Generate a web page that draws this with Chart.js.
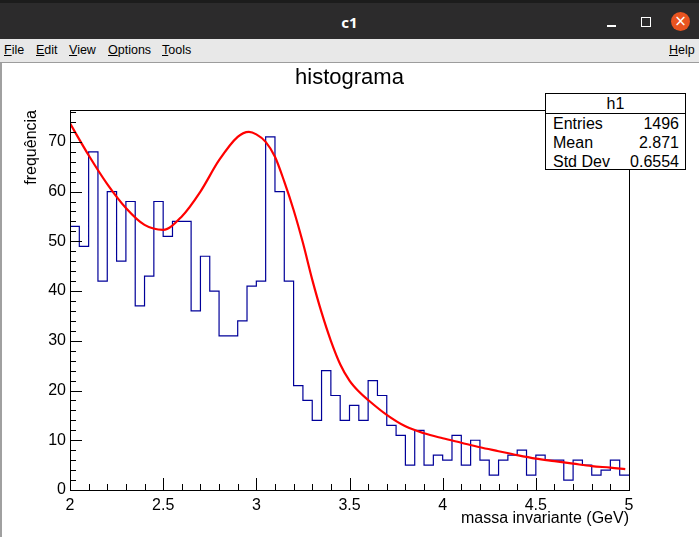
<!DOCTYPE html>
<html>
<head>
<meta charset="utf-8">
<script src="https://cdn.jsdelivr.net/npm/chart.js@4.4.1/dist/chart.umd.min.js"></script>
<style>
  body { margin: 0; width: 699px; height: 537px; overflow: hidden; background: #fff; position: relative; font-family: "Liberation Sans", Arial, sans-serif; }
  #strip { position: absolute; left: 0; top: 0; width: 699px; height: 4px; background: #1c1c1c; }
  #titlebar { position: absolute; left: 0; top: 3px; width: 699px; height: 36px; background: #2c2b2c; color: #fff; }
  #titlebar .name { position: absolute; left: 0; width: 699px; top: 9px; text-align: center; font: bold 15px "Noto Sans", sans-serif; }
  #titlebar .min { position: absolute; left: 607px; top: 22px; width: 9px; height: 1.5px; background: #fff; }
  #titlebar .max { position: absolute; left: 641px; top: 14px; width: 8px; height: 8px; border: 1.5px solid #fff; }
  #titlebar .close { position: absolute; left: 671px; top: 9px; width: 19px; height: 19px; border-radius: 50%; background: #e95420; color: #fff; font: 15px "DejaVu Sans", sans-serif; text-align: center; line-height: 19px; }
  #menubar { position: absolute; left: 0; top: 39px; width: 699px; height: 23px; background: #e8e8e8; border-bottom: 1px solid #9c9c9c; font: 12.5px "Liberation Sans", Arial, sans-serif; color: #000; }
  #menubar span { position: absolute; top: 4px; }
  #menubar u { text-decoration: underline; }
  #pad { position: absolute; left: 0; top: 63px; width: 699px; height: 474px; border-left: 2px solid #a0a0a0; box-sizing: border-box; }
  #wrap { position: absolute; left: 0; top: 63px; width: 699px; height: 474px; }
  #htitle { position: absolute; left: 0; width: 699px; top: 64px; text-align: center; font-size: 22px; color: #000; }
  #stats { position: absolute; left: 545px; top: 93px; width: 141px; height: 77px; box-sizing: border-box; border: 1px solid #000; background: #fff; font-size: 16px; color: #000; }
  #stats .head { height: 19px; border-bottom: 1px solid #000; text-align: center; line-height: 20px; }
  #stats .row { height: 19px; line-height: 19px; padding: 0 6px 0 7px; display: flex; justify-content: space-between; }
</style>
</head>
<body>
<div id="strip"></div>
<div id="titlebar"><div class="name">c1</div><div class="min"></div><div class="max"></div><div class="close">×</div></div>
<div id="menubar">
  <span style="left:4px"><u>F</u>ile</span>
  <span style="left:36px"><u>E</u>dit</span>
  <span style="left:69px"><u>V</u>iew</span>
  <span style="left:108px"><u>O</u>ptions</span>
  <span style="left:162px"><u>T</u>ools</span>
  <span style="left:669px"><u>H</u>elp</span>
</div>
<div id="pad"></div>
<div id="wrap"><canvas id="c1"></canvas></div>
<div id="htitle">histograma</div>
<div id="stats">
  <div class="head">h1</div>
  <div class="row"><span>Entries</span><span id="sEntries"></span></div>
  <div class="row"><span>Mean</span><span id="sMean"></span></div>
  <div class="row"><span>Std Dev</span><span id="sStd"></span></div>
</div>
<script>
// histograma: 60 bins de 0.05 GeV entre 2 e 5
const binStart = 2;
const binWidth = 0.05;
const counts = [
  53, 49, 68, 42, 60, 46, 58, 37, 43, 58,
  51, 54, 54, 36, 47, 40, 31, 31, 34, 41,
  42, 71, 60, 42, 21, 18, 14, 24, 19, 14,
  17, 14, 22, 19, 13, 11, 5, 12, 5, 7,
  6, 11, 5, 10, 6, 3, 6, 7, 8, 3,
  7, 6, 6, 2, 6, 5, 3, 4, 6, 3
];

// curva do ajuste
const fitX = [2.0, 2.1, 2.2, 2.3, 2.4, 2.5, 2.6, 2.7, 2.8, 2.9, 2.96, 3.0, 3.05, 3.1, 3.15, 3.2, 3.25, 3.3, 3.35, 3.4, 3.45, 3.5, 3.55, 3.6, 3.7, 3.8, 3.9, 4.0, 4.1, 4.2, 4.3, 4.4, 4.5, 4.6, 4.7, 4.8, 4.9, 4.98];
const fitY = [73.7, 67.3, 61.5, 56.7, 53.3, 52.3, 55.0, 60.0, 66.3, 71.0, 72.0, 71.5, 70.0, 67.0, 62.0, 56.3, 49.7, 42.3, 35.7, 30.0, 25.3, 22.0, 19.8, 18.1, 15.1, 12.8, 11.4, 10.4, 9.5, 8.6, 7.8, 7.0, 6.3, 5.8, 5.3, 4.8, 4.5, 4.2];

// caixa de estatisticas
const statEntries = "1496";
const statMean = "2.871";
const statStd = "0.6554";

// ticks dos eixos
const xTicks = [2, 2.5, 3, 3.5, 4, 4.5, 5];
const yTicks = [0, 10, 20, 30, 40, 50, 60, 70];
const xMin = 2, xMax = 5, yMin = 0, yMax = 76.4;

document.getElementById("sEntries").textContent = statEntries;
document.getElementById("sMean").textContent = statMean;
document.getElementById("sStd").textContent = statStd;

// contorno do histograma: cada bin vira dois pontos (borda esquerda e direita)
const histPoints = [];
counts.forEach((c, i) => {
  const lo = binStart + i * binWidth;
  histPoints.push({ x: lo, y: c });
  histPoints.push({ x: lo + binWidth, y: c });
});
const fitPoints = fitX.map((x, i) => ({ x: x, y: fitY[i] }));

// ticks para dentro + moldura, estilo ROOT
const rootFrame = {
  id: "rootFrame",
  afterDatasetsDraw(chart) {
    const { ctx, chartArea: a, scales } = chart;
    const sx = scales.x, sy = scales.y;
    ctx.save();
    ctx.strokeStyle = "#000";
    ctx.lineWidth = 1;
    ctx.beginPath();
    for (let v = 0; v <= yMax; v += 2) {
      const py = Math.round(sy.getPixelForValue(v)) + 0.5;
      const len = (v % 10 === 0) ? 12 : 6;
      ctx.moveTo(a.left, py);
      ctx.lineTo(a.left + len, py);
    }
    for (let k = 0; k <= 30; k++) {
      const v = xMin + k * 0.1;
      const px = Math.round(sx.getPixelForValue(v)) + 0.5;
      const len = (k % 5 === 0) ? 12 : 6;
      ctx.moveTo(px, a.bottom);
      ctx.lineTo(px, a.bottom - len);
    }
    ctx.stroke();
    ctx.strokeRect(Math.round(a.left) + 0.5, Math.round(a.top) + 0.5, Math.round(a.right - a.left), Math.round(a.bottom - a.top));
    ctx.restore();
  }
};

const ctx = document.getElementById("c1").getContext("2d");
const chart = new Chart(ctx, {
  type: "line",
  data: {
    datasets: [
      {
        label: "ajuste",
        data: fitPoints,
        borderColor: "#ff0000",
        borderWidth: 2.2,
        pointRadius: 0,
        cubicInterpolationMode: "monotone",
        fill: false
      },
      {
        label: "h1",
        data: histPoints,
        borderColor: "#000099",
        borderWidth: 1.2,
        pointRadius: 0,
        tension: 0,
        fill: false
      }
    ]
  },
  options: {
    responsive: true,
    maintainAspectRatio: false,
    animation: false,
    layout: { padding: { left: 0, right: 70, top: 47, bottom: 0 } },
    plugins: {
      legend: { display: false },
      tooltip: { enabled: false },
      title: { display: false }
    },
    scales: {
      x: {
        type: "linear",
        min: xMin,
        max: xMax,
        afterBuildTicks: s => { s.ticks = xTicks.map(v => ({ value: v })); },
        afterFit: s => { s.height = 47; },
        grid: { display: false, drawTicks: false },
        border: { display: false },
        ticks: {
          color: "#000",
          padding: 6,
          maxRotation: 0,
          font: { family: "Liberation Sans", size: 16 },
          callback: v => String(v)
        },
        title: {
          display: true,
          text: "massa invariante (GeV)",
          align: "end",
          color: "#000",
          font: { family: "Liberation Sans", size: 16 },
          padding: { top: 0, bottom: 9 }
        }
      },
      y: {
        type: "linear",
        min: yMin,
        max: yMax,
        afterBuildTicks: s => { s.ticks = yTicks.map(v => ({ value: v })); },
        afterFit: s => { s.width = 70; },
        grid: { display: false, drawTicks: false },
        border: { display: false },
        ticks: {
          color: "#000",
          padding: 4,
          font: { family: "Liberation Sans", size: 16 },
          callback: v => String(v)
        },
        title: {
          display: true,
          text: "frequência",
          align: "end",
          color: "#000",
          font: { family: "Liberation Sans", size: 16 },
          padding: { top: 22, bottom: 0 }
        }
      }
    }
  },
  plugins: [rootFrame]
});
</script>
</body>
</html>
